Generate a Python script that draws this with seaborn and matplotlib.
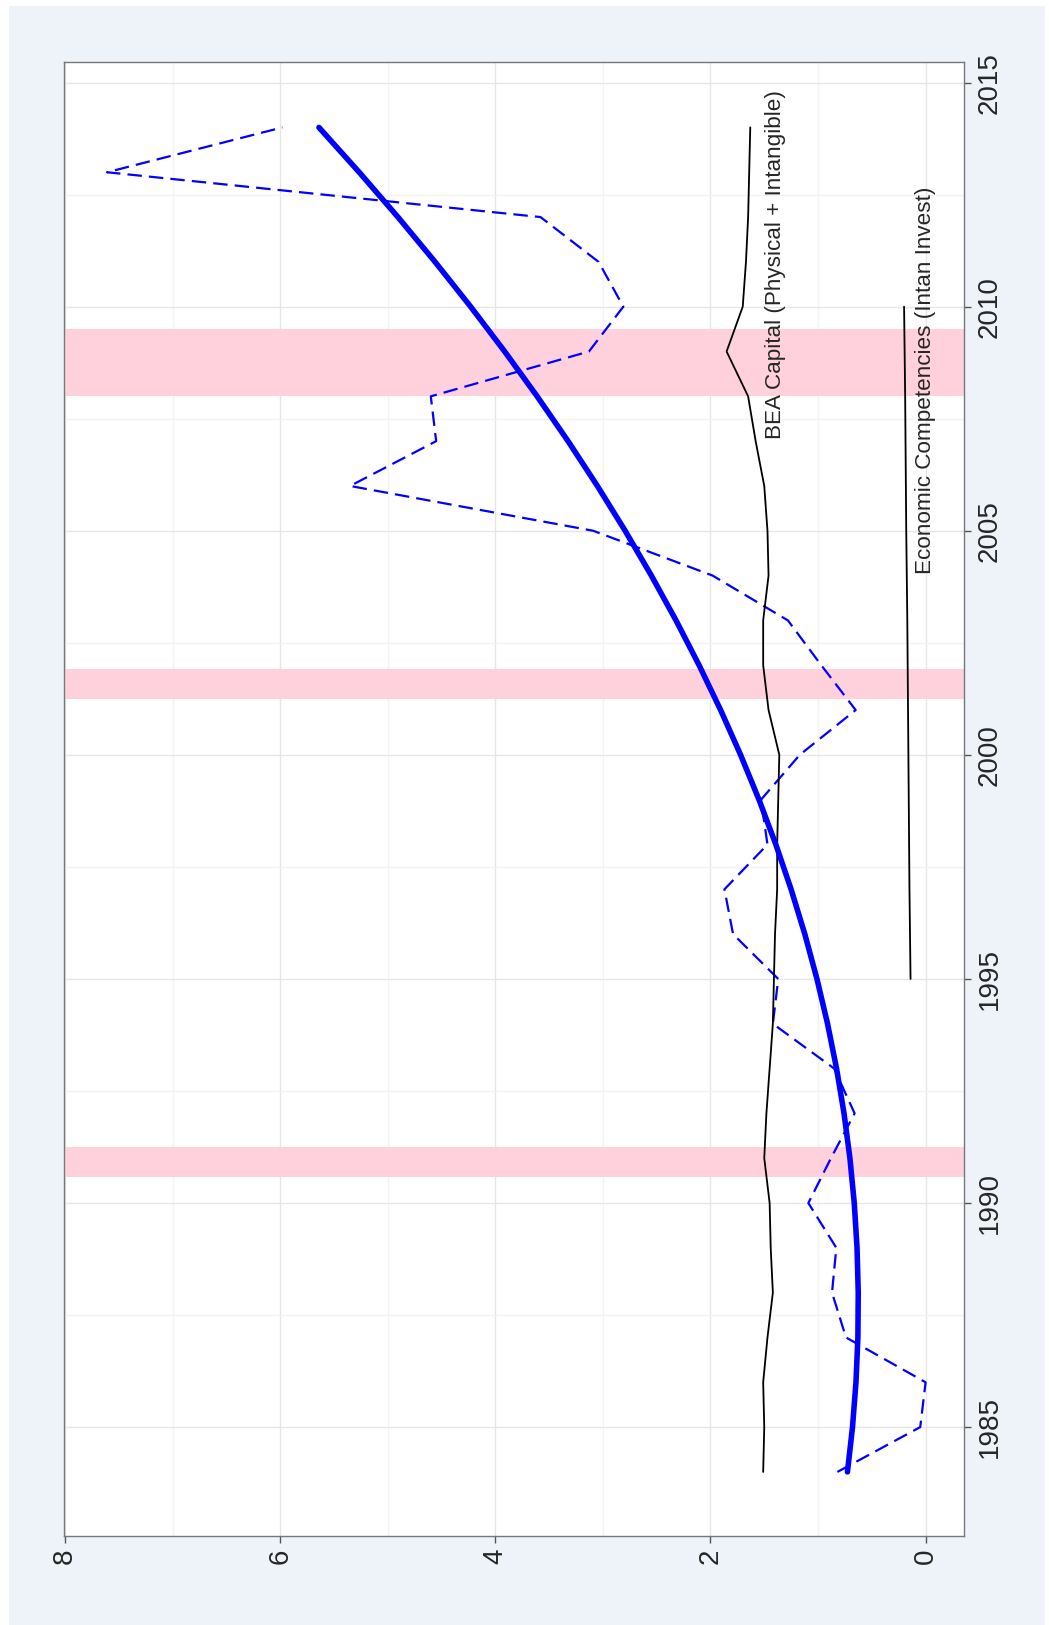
import numpy as np
import pandas as pd
import matplotlib
matplotlib.use('Agg')
import matplotlib.pyplot as plt
import seaborn as sns
from matplotlib.patches import Rectangle

# ------------------------------------------------------
# DATA
# ------------------------------------------------------

years = list(range(1984, 2015))

# Dashed blue series
intan_share = [0.82, 0.05, 0.00, 0.74, 0.87, 0.83, 1.09, 0.88, 0.66, 0.85,
               1.42, 1.37, 1.79, 1.87, 1.47, 1.53, 1.17, 0.65, 0.97, 1.28,
               1.98, 3.09, 5.35, 4.55, 4.60, 3.13, 2.81, 3.04, 3.58, 7.61,
               5.98]

# BEA capital (physical + intangible)
bea_capital = [1.51, 1.50, 1.51, 1.47, 1.42, 1.44, 1.45, 1.50, 1.48, 1.45,
               1.42, 1.41, 1.40, 1.38, 1.38, 1.37, 1.36, 1.46, 1.51, 1.51,
               1.46, 1.47, 1.50, 1.58, 1.65, 1.85, 1.70, 1.67, 1.65, 1.64,
               1.63]

# Economic competencies (Intan Invest)
ec_years = [1995, 1997, 2000, 2003, 2005, 2008, 2010]
ec_values = [0.14, 0.15, 0.16, 0.17, 0.18, 0.19, 0.20]

# Recession bands
recessions = [(1990.58, 1991.25), (2001.25, 2001.92), (2008.0, 2009.5)]

year_ticks = [1985, 1990, 1995, 2000, 2005, 2010, 2015]
value_ticks = [0, 2, 4, 6, 8]

# ------------------------------------------------------
# PLOT
# ------------------------------------------------------

sns.set_style('white')
plt.rcParams['font.family'] = ['Liberation Sans', 'DejaVu Sans']

fig = plt.figure(figsize=(10.49, 16.25), dpi=100)
fig.patch.set_facecolor('white')
fig.patches.append(Rectangle((9 / 1049, 0), 1036 / 1049, 1 - 6 / 1625,
                             transform=fig.transFigure, facecolor='#EEF3FA',
                             edgecolor='none', zorder=-10))

ax = fig.add_axes([64 / 1049, 1 - 1536 / 1625, 900 / 1049, 1474 / 1625])
ax.set_facecolor('white')

# recession shading
for start, end in recessions:
    ax.axhspan(start, end, color='#FFD1DC', lw=0, zorder=1)

df = pd.DataFrame({'year': years, 'intan': intan_share, 'bea': bea_capital})

# quadratic fit of the dashed series
coef = np.polyfit(df['year'], df['intan'], 2)
df['fit'] = np.polyval(coef, df['year'])

sns.lineplot(data=df, x='intan', y='year', orient='y', ax=ax, color='#0000FF',
             lw=1.6, zorder=3)
ax.lines[-1].set_dashes([6.5, 3.2])
sns.lineplot(data=df, x='fit', y='year', orient='y', ax=ax, color='#0000FF',
             lw=4, zorder=4)
sns.lineplot(data=df, x='bea', y='year', orient='y', ax=ax, color='black',
             lw=1.3, zorder=3)
sns.lineplot(x=ec_values, y=ec_years, orient='y', ax=ax, color='black',
             lw=1.3, zorder=3)

ax.text(1.40, 2007.05, 'BEA Capital (Physical + Intangible)', rotation=90,
        ha='center', va='bottom', fontsize=16.2, zorder=5)
ax.text(0.0, 2004.03, 'Economic Competencies (Intan Invest)', rotation=90,
        ha='center', va='bottom', fontsize=16.2, zorder=5)

ax.set_xlim(8.01, -0.357)
ax.set_ylim(1982.57, 2015.46)

ax.set_xticks(value_ticks)
ax.set_xticklabels([str(v) for v in value_ticks], rotation=90, fontsize=20)
ax.set_xticks([1, 3, 5, 7], minor=True)
ax.yaxis.tick_right()
ax.set_yticks(year_ticks)
ax.set_yticklabels([str(y) for y in year_ticks], rotation=90, va='center',
                   fontsize=20)
ax.set_yticks([1987.5, 1992.5, 1997.5, 2002.5, 2007.5, 2012.5], minor=True)

ax.grid(True, which='major', color='#E6E6E6', lw=1)
ax.grid(True, which='minor', color='#F3F3F3', lw=1)
ax.set_axisbelow(True)

ax.tick_params(axis='both', which='major', length=5, width=1, color='#555555',
               direction='out', pad=4)
ax.tick_params(axis='both', which='minor', length=0)
ax.tick_params(axis='y', right=True, left=False)
ax.tick_params(axis='x', bottom=True)

for s in ax.spines.values():
    s.set_color('#777777')
    s.set_linewidth(1)

ax.set_xlabel('')
ax.set_ylabel('')

fig.savefig('out.png', dpi=100)
